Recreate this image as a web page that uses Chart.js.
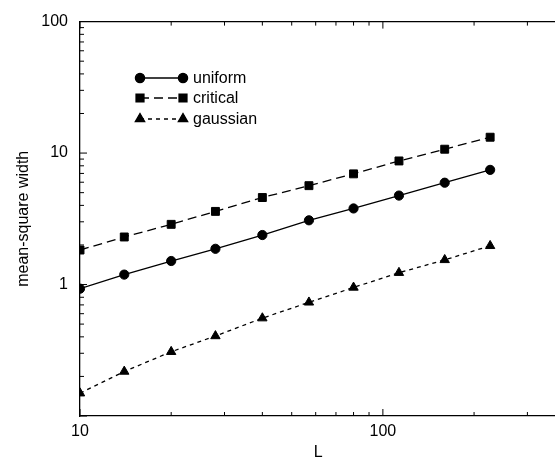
<!DOCTYPE html>
<html>
<head>
<meta charset="utf-8">
<script src="https://cdn.jsdelivr.net/npm/chart.js@4"></script>
<style>
  html, body { margin: 0; padding: 0; background: #fff; overflow: hidden; }
  #wrap { width: 563px; height: 462px; }
</style>
</head>
<body>
<div id="wrap"><canvas id="widthChart"></canvas></div>
<script>
// system sizes L
var sizes = [10, 14, 20, 28, 40, 57, 80, 113, 160, 226];
// mean-square width for each initial condition
var uniformW  = [0.93, 1.19, 1.51, 1.87, 2.38, 3.08, 3.79, 4.75, 5.95, 7.45];
var criticalW = [1.83, 2.30, 2.87, 3.60, 4.59, 5.65, 6.95, 8.71, 10.7, 13.2];
var gaussianW = [0.149, 0.218, 0.308, 0.406, 0.555, 0.732, 0.95, 1.23, 1.54, 1.97];

var xLabels = [10, 100];
var yLabels = [1, 10, 100];
var seriesNames = ['uniform', 'critical', 'gaussian'];

function pts(ys) {
  return ys.map(function(y, i) { return { x: sizes[i], y: y }; });
}

var styles = [
  { pointStyle: 'circle',   radius: 4.6, dash: [] },
  { pointStyle: 'rect',     radius: 5.6, dash: [9, 5] },
  { pointStyle: 'triangle', radius: 5.4, dash: [4, 4] }
];

// inward tick marks, top frame line and the legend
var framePlugin = {
  id: 'frame',
  afterDraw: function(chart) {
    var ctx = chart.ctx, a = chart.chartArea;
    var xs = chart.scales.x, ys = chart.scales.y;
    ctx.save();
    ctx.strokeStyle = '#000';
    ctx.lineWidth = 1.3;
    ctx.beginPath();
    ctx.moveTo(a.left, a.top);
    ctx.lineTo(a.right, a.top);
    ctx.stroke();

    ctx.lineWidth = 1;
    ctx.beginPath();
    [1, 10, 100].forEach(function(d) {
      for (var k = 1; k <= 9; k++) {
        var v = d * k;
        if (v < xs.min || v > xs.max) continue;
        var px = xs.getPixelForValue(v);
        var len = k === 1 ? 7 : 4;
        ctx.moveTo(px, a.bottom); ctx.lineTo(px, a.bottom - len);
        ctx.moveTo(px, a.top); ctx.lineTo(px, a.top + len);
      }
    });
    [0.1, 1, 10].forEach(function(d) {
      for (var k = 1; k <= 9; k++) {
        var v = d * k;
        var py = ys.getPixelForValue(v);
        var len = k === 1 ? 7 : 4;
        ctx.moveTo(a.left, py); ctx.lineTo(a.left + len, py);
      }
    });
    ctx.stroke();

    // legend
    var x0 = 140, x1 = 183, tx = 193, rows = [78, 98, 119];
    ctx.font = '16px "Liberation Sans", Arial, sans-serif';
    ctx.textBaseline = 'middle';
    ctx.fillStyle = '#000';
    seriesNames.forEach(function(name, i) {
      var s = styles[i], y = rows[i];
      ctx.lineWidth = 1.3;
      ctx.setLineDash(s.dash);
      ctx.beginPath();
      ctx.moveTo(x0, y); ctx.lineTo(x1, y);
      ctx.stroke();
      ctx.setLineDash([]);
      [x0, x1].forEach(function(px) {
        Chart.helpers.drawPoint(ctx, { pointStyle: s.pointStyle, radius: s.radius, borderWidth: 1, rotation: 0 }, px, y);
        ctx.fill();
      });
      ctx.fillText(name, tx, y + 1);
    });
    ctx.restore();
  }
};

Chart.defaults.font.family = '"Liberation Sans", Arial, sans-serif';
Chart.defaults.font.size = 16;
Chart.defaults.color = '#000';

new Chart(document.getElementById('widthChart'), {
  type: 'scatter',
  data: {
    datasets: [uniformW, criticalW, gaussianW].map(function(d, i) {
      return {
        label: seriesNames[i],
        data: pts(d),
        showLine: true,
        borderColor: '#000',
        backgroundColor: '#000',
        borderWidth: 1.3,
        borderDash: styles[i].dash,
        pointStyle: styles[i].pointStyle,
        pointRadius: styles[i].radius,
        pointBorderWidth: 1,
        pointBackgroundColor: '#000'
      };
    })
  },
  options: {
    responsive: true,
    maintainAspectRatio: false,
    animation: false,
    layout: { padding: { top: 17, right: 0, left: 0, bottom: 0 } },
    plugins: { legend: { display: false }, tooltip: { enabled: false } },
    scales: {
      x: {
        type: 'logarithmic',
        min: 10,
        max: 374,
        grid: { display: false, drawTicks: false },
        border: { display: true, color: '#000', width: 1.3 },
        ticks: {
          autoSkip: false,
          maxRotation: 0,
          padding: 6,
          callback: function(v) { return xLabels.indexOf(v) >= 0 ? String(v) : ''; }
        },
        title: { display: true, text: 'L', padding: { top: 0, bottom: 0 } },
        afterFit: function(s) { s.height = 46; }
      },
      y: {
        type: 'logarithmic',
        min: 0.1,
        max: 100,
        grid: { display: false, drawTicks: false },
        border: { display: true, color: '#000', width: 1.3 },
        ticks: {
          autoSkip: false,
          padding: 12,
          callback: function(v) { return yLabels.indexOf(v) >= 0 ? String(v) : ''; }
        },
        title: { display: true, text: 'mean-square width', padding: { top: 14, bottom: 0 } },
        afterFit: function(s) { s.width = 80; }
      }
    }
  },
  plugins: [framePlugin]
});
</script>
</body>
</html>
